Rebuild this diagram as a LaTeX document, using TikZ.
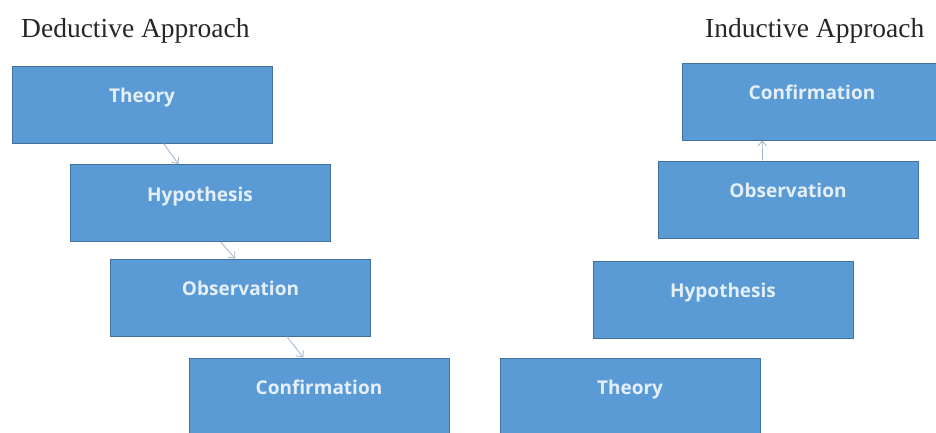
\documentclass[tikz,border=0pt]{standalone}
\usepackage{fontspec}
\setmainfont{Liberation Serif}
\newfontfamily\boxfont{Open Sans}
\usetikzlibrary{arrows.meta}
\definecolor{boxblue}{HTML}{5B9BD5}
\definecolor{boxline}{HTML}{41719C}
\definecolor{boxtext}{HTML}{E4EFFA}
\definecolor{arrowgray}{HTML}{9FB2CC}
\tikzset{
  stepbox/.style={draw=boxline, line width=1pt, fill=boxblue, minimum width=260pt,
    minimum height=77pt, inner sep=0pt, text=boxtext, text height=14pt, text depth=18pt,
    font=\boxfont\bfseries\fontsize{19}{24}\selectfont},
  heading/.style={anchor=base west, inner sep=0pt, text=black!85,
    font=\fontsize{27.5}{30}\selectfont},
  link/.style={draw=arrowgray, line width=0.8pt, -{Straight Barb[length=5pt,width=9pt]}}
}
\begin{document}
\begin{tikzpicture}[x=1pt,y=-1pt]
    \useasboundingbox (0,0) rectangle (936,432);
    \clip (0,0) rectangle (936,432);
    \node [heading] (dtitle) at (21,37) {Deductive Approach};
    \node [heading] (ititle) at (705,37) {Inductive Approach};
    \node [stepbox] (dthe) at (142,104.5) {Theory};
    \node [stepbox] (dhyp) at (200,203) {Hypothesis};
    \node [stepbox] (dobs) at (240.5,297.5) {Observation};
    \node [stepbox] (dcon) at (319,396.5) {Confirmation};
    \node [stepbox] (icon) at (812,101.5) {Confirmation};
    \node [stepbox] (iobs) at (788,199.5) {Observation};
    \node [stepbox] (ihyp) at (723,299.5) {Hypothesis};
    \node [stepbox] (ithe) at (630,396.5) {Theory};
    \draw [link] (dthe.-61) -- (dhyp.119);
    \draw [link] (dhyp.-62) -- (dobs.98);
    \draw [link] (dobs.-40) -- (dcon.112);
    \draw [link] (iobs.123) -- (icon.-142);
\end{tikzpicture}
\end{document}
